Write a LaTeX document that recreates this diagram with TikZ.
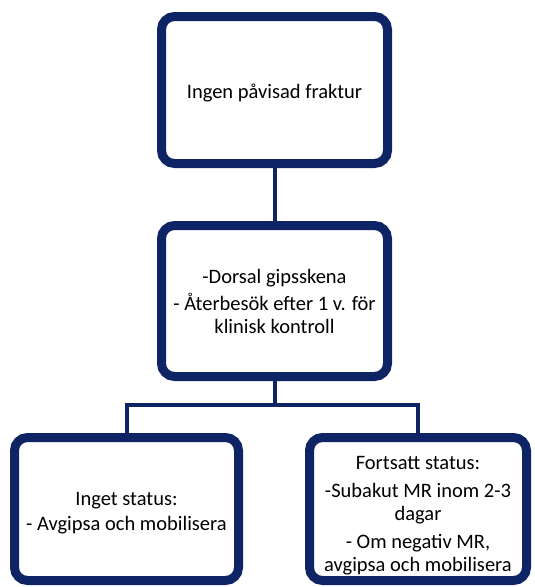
\documentclass[tikz,border=0pt]{standalone}
\usepackage{fontspec}
\setmainfont{Carlito}
\definecolor{navy}{RGB}{14,36,100}
\begin{document}
\begin{tikzpicture}[x=1pt,y=1pt,
  box/.style={draw=navy, line width=9pt, rounded corners=13pt, fill=white,
    inner sep=0pt, align=center, font=\fontsize{20.5}{23}\selectfont, text=black},
  conn/.style={draw=navy, line width=4pt}]
\useasboundingbox (0,0) rectangle (535,-587);
\node[box, minimum width=226pt, minimum height=147pt] (top) at (274.5,-90) {\rule{0pt}{20pt}Ingen påvisad fraktur};
\node[box, minimum width=226pt, minimum height=151pt] (mid) at (274.5,-301) {-Dorsal gipsskena\\[4pt] - Återbesök efter 1 v. för\\klinisk kontroll};
\node[box, minimum width=224pt, minimum height=143pt] (left) at (126.5,-509) {\rule{0pt}{22pt}Inget status:\\[2pt] - Avgipsa och mobilisera};
\node[box, minimum width=217pt, minimum height=143pt] (right) at (418,-509) {\rule{0pt}{27pt}Fortsatt status:\\[5pt] -Subakut MR inom 2-3\\dagar\\[5pt] - Om negativ MR,\\avgipsa och mobilisera};
\coordinate (split) at (274.5,-405);
\draw[conn] (top.south) -- (mid.north);
\draw[conn] (mid.south) -- (split);
\draw[conn] (left.north) |- (split) -| (right.north);
\end{tikzpicture}
\end{document}
